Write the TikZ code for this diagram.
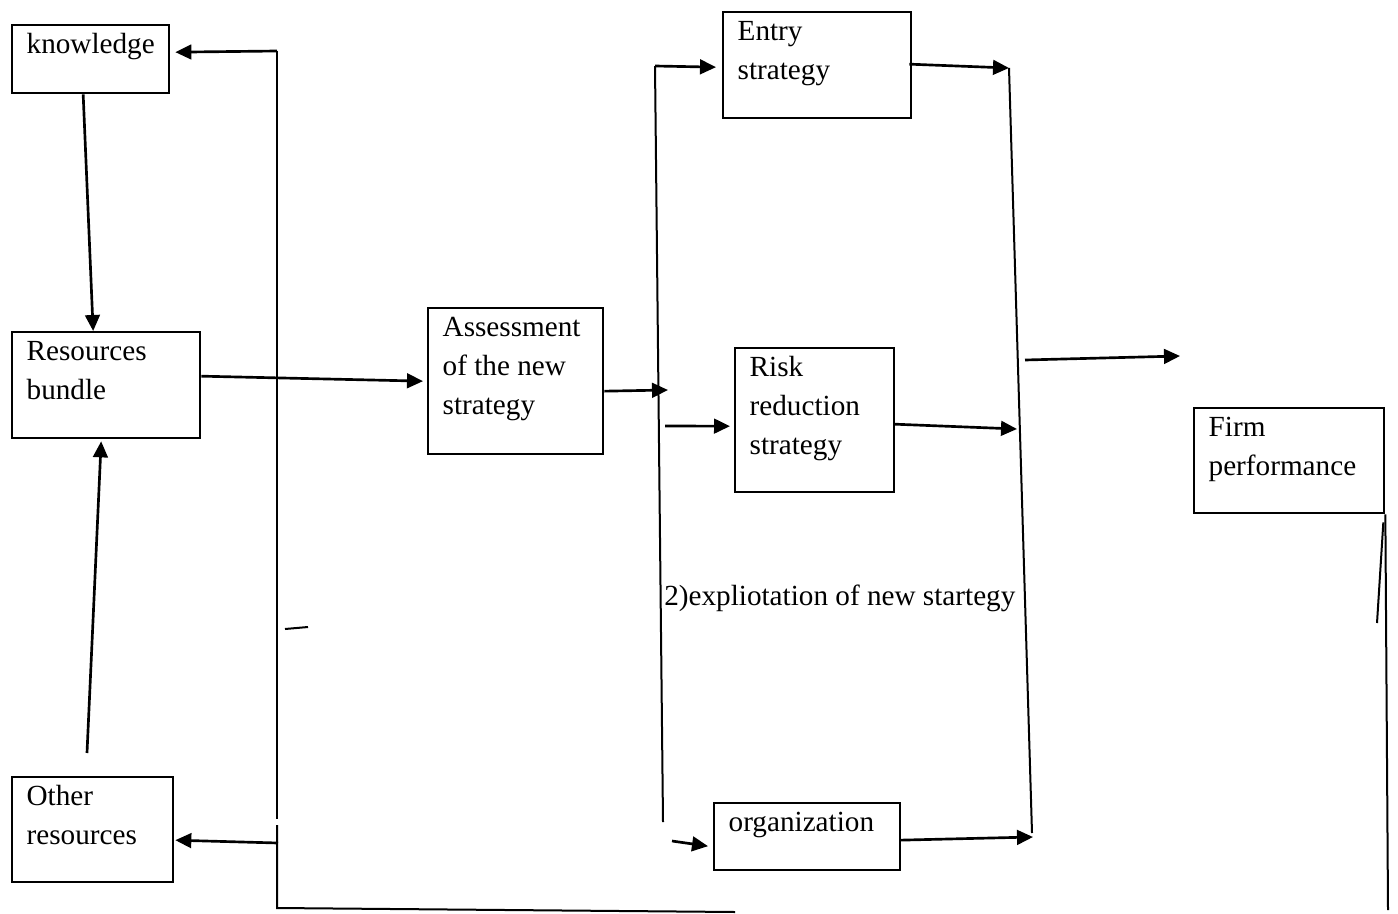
\documentclass[tikz,border=0pt]{standalone}
\usepackage{fontspec}
\setmainfont{Liberation Serif}
\usepackage{tikz}
\usetikzlibrary{arrows.meta}
\newlength{\pxu}
\setlength{\pxu}{0.75pt}
\newcommand{\blktext}[3]{\parbox[c][#2\pxu][t]{#1\pxu}{\fontsize{21.9pt}{29.25pt}\selectfont\raggedright\leftskip=14.5\pxu\rule{0pt}{21.4pt}#3}}
\begin{document}
\begin{tikzpicture}[x=0.75pt,y=-0.75pt,
	blk/.style={draw=black,line width=1.75pt,anchor=north west,inner sep=0pt},
	arr/.style={-{Triangle[length=12pt,width=11pt]},line width=2pt},
	bus/.style={line width=1.5pt}]
	\useasboundingbox (0,0) rectangle (1398,913);

	\node[blk] (kn)     at (11, 24)    {\blktext{157}{68}{knowledge}};
	\node[blk] (res)    at (11, 331)   {\blktext{188}{106}{Resources\\bundle}};
	\node[blk] (oth)    at (11, 776)   {\blktext{161}{105}{Other\\resources}};
	\node[blk] (assess) at (427, 307)  {\blktext{175}{146}{Assessment\\of the new\\strategy}};
	\node[blk] (entry)  at (722, 11)   {\blktext{188}{106}{Entry\\strategy}};
	\node[blk] (risk)   at (734, 347)  {\blktext{159}{144}{Risk\\reduction\\strategy}};
	\node[blk] (org)    at (713, 802)  {\blktext{186}{67}{organization}};
	\node[blk] (firm)   at (1193, 407) {\blktext{190}{105}{Firm\\performance}};
	\node[anchor=base west,inner sep=0pt,font=\fontsize{21.9pt}{29.25pt}\selectfont] (expl) at (664, 605) {2)expliotation of new startegy};

	\coordinate (lbtop)  at (277, 51);
	\coordinate (lbmid)  at (277, 819);
	\coordinate (lblow)  at (277, 825);
	\coordinate (lbbot)  at (277, 908);
	\coordinate (lbend)  at (735, 912);
	\coordinate (lboth)  at (278, 843);
	\coordinate (othup)  at (87, 753);
	\coordinate (dasha)  at (285, 629);
	\coordinate (dashb)  at (308, 627);
	\coordinate (mbtop)  at (655, 66);
	\coordinate (mbbot)  at (663, 822);
	\coordinate (mbin)   at (668, 390);
	\coordinate (mbrisk) at (665, 426);
	\coordinate (mborg)  at (672, 841);
	\coordinate (rbtop)  at (1009, 68);
	\coordinate (rbrisk) at (1017, 429);
	\coordinate (rbbot)  at (1032, 833);
	\coordinate (rborg)  at (1033, 837);
	\coordinate (fpfrom) at (1025, 360);
	\coordinate (fpto)   at (1180, 356);
	\coordinate (fpbot)  at (1388, 910);
	\coordinate (fpstub) at (1377, 623);

	\draw[bus] (lbtop) -- (lbmid);
	\draw[bus] (lblow) -- (lbbot) -- (lbend);
	\draw[bus] (dasha) -- (dashb);
	\draw[bus] (mbtop) -- (mbbot);
	\draw[bus] (rbtop) -- (rbbot);
	\draw[bus] (firm.south east) -- (fpbot);
	\draw[bus] ([shift={(-2,8)}]firm.south east) -- (fpstub);

	\path[arr] ([shift={(-7.5,0)}]kn.south) edge ([shift={(-13,0)}]res.north);
	\path[arr] (othup) edge ([shift={(-5,2)}]res.south);
	\path[arr] (lbtop) edge ([shift={(5,-7)}]kn.east);
	\path[arr] (lboth) edge ([shift={(1,10.5)}]oth.east);
	\path[arr] ([shift={(0,-9)}]res.east) edge ([shift={(-4,0)}]assess.west);
	\path[arr] ([shift={(0,10)}]assess.east) edge (mbin);
	\path[arr] (mbtop) edge ([shift={(-6,2)}]entry.west);
	\path[arr] (mbrisk) edge ([shift={(-4,6)}]risk.west);
	\path[arr] (mborg) edge ([shift={(-5,9.5)}]org.west);
	\path[arr] ([shift={(-3,-1)}]entry.east) edge (rbtop);
	\path[arr] ([shift={(-1,4)}]risk.east) edge (rbrisk);
	\path[arr] ([shift={(-2,3.5)}]org.east) edge (rborg);
	\path[arr] (fpfrom) edge (fpto);
\end{tikzpicture}
\end{document}
